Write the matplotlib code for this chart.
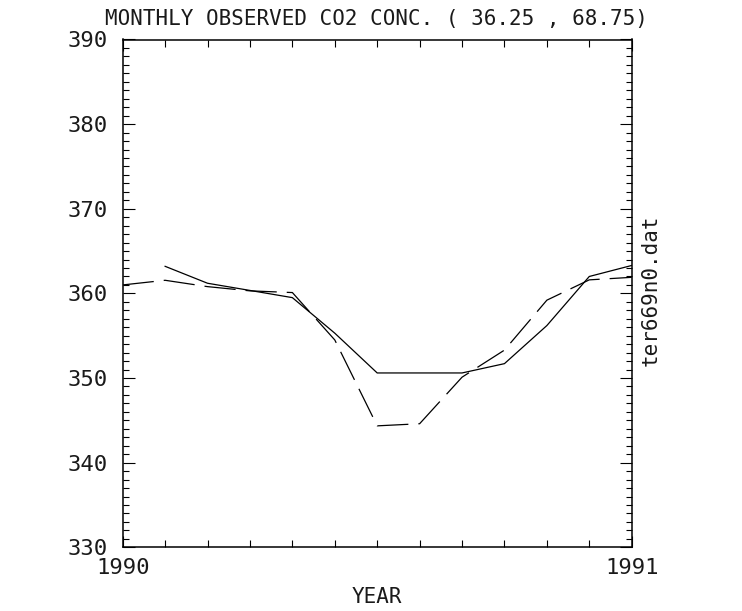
import numpy as np
import matplotlib
matplotlib.use("Agg")
import matplotlib.pyplot as plt
from matplotlib.ticker import MultipleLocator, FixedLocator

# ---- data ----
solid_months = [1, 2, 3, 4, 5, 6, 7, 8, 9, 10, 11, 12]
solid_vals = [363.2, 361.2, 360.35, 359.5, 355.3, 350.6, 350.6, 350.6, 351.7, 356.2, 362.0, 363.3]
dash_months = [0, 1, 2, 3, 4, 5, 6, 7, 8, 9, 10, 11, 12]
dash_vals = [361.0, 361.55, 360.8, 360.3, 360.1, 354.5, 344.35, 344.6, 350.1, 353.3, 359.2, 361.6, 361.9]
title = "MONTHLY OBSERVED CO2 CONC. ( 36.25 , 68.75)"
xlabel = "YEAR"
side_label = "ter669n0.dat"
year_ticks = [1990, 1991]
y_ticks = [330, 340, 350, 360, 370, 380, 390]

plt.rcParams['font.family'] = ['DejaVu Sans Mono']
FS = 15
TFS = 16
TXT = '#1a1a1a'

W, H = 742, 611
fig = plt.figure(figsize=(W / 100, H / 100), dpi=100)
L, R, T, B = 122.7, 631.7, 39.5, 547.3
ax = fig.add_axes([L / W, 1 - B / H, (R - L) / W, (B - T) / H])

xs = 1990 + np.array(solid_months) / 12.0
xd = 1990 + np.array(dash_months) / 12.0
ax.plot(xs, solid_vals, color='black', lw=0.9, solid_joinstyle='miter')
ax.plot(xd, dash_vals, color='black', lw=0.9, dashes=(25, 8))

ax.set_xlim(1990, 1991)
ax.set_ylim(330, 390)
ax.xaxis.set_major_locator(FixedLocator(year_ticks))
ax.xaxis.set_minor_locator(FixedLocator([1990 + m / 12 for m in range(1, 12)]))
ax.set_xticklabels([str(y) for y in year_ticks])
ax.yaxis.set_major_locator(FixedLocator(y_ticks))
ax.yaxis.set_minor_locator(MultipleLocator(1))
ax.set_yticklabels([str(v) for v in y_ticks])

ax.tick_params(which='both', direction='in', top=True, right=True, width=0.8, color='black',
               labelcolor=TXT)
ax.tick_params(axis='x', which='major', length=8, pad=8, labelsize=TFS)
ax.tick_params(axis='x', which='minor', length=5)
ax.tick_params(axis='y', which='major', length=8.5, pad=11, labelsize=TFS)
ax.tick_params(axis='y', which='minor', length=4.5)
for s in ax.spines.values():
    s.set_linewidth(1.1)

ax.set_xlabel(xlabel, fontsize=FS, va='center', color=TXT)
ax.xaxis.set_label_coords(0.5, -(597 - B) / (B - T))

ax.text((651 - L) / (R - L), (B - 290) / (B - T), side_label, rotation=90,
        ha='center', va='center', fontsize=FS, color=TXT, transform=ax.transAxes)

fig.text(376 / W, 1 - 25.5 / H, title, ha='center', va='baseline', fontsize=FS, color=TXT)

fig.savefig("out.png", dpi=100)
